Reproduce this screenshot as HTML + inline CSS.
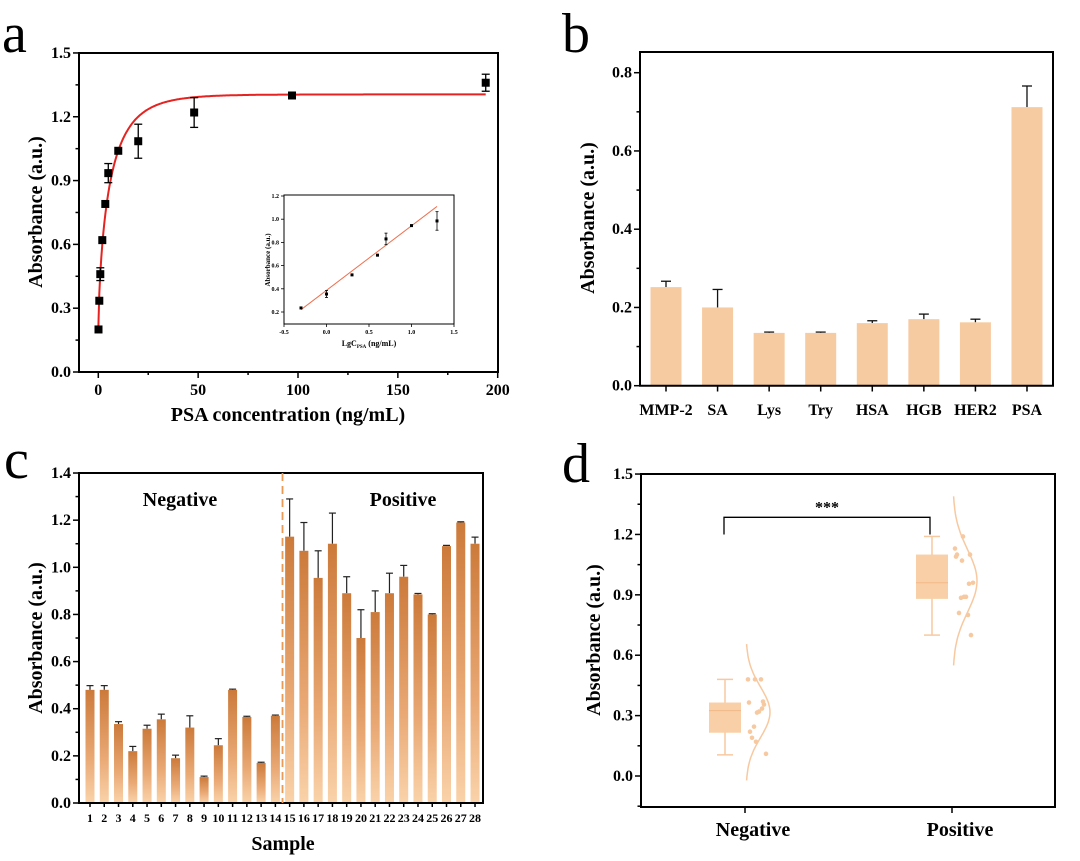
<!DOCTYPE html>
<html><head><meta charset="utf-8"><style>
html,body{margin:0;padding:0;background:#fff;}
svg{display:block;font-family:"Liberation Serif",serif;}
.t{font-weight:bold;font-size:16px;}
.ti{font-weight:bold;font-size:20px;}
</style></head><body>
<svg id="fig" width="1080" height="861" viewBox="0 0 1080 861">
<defs>
<linearGradient id="cg" x1="0" y1="0" x2="0" y2="1">
<stop offset="0" stop-color="#cc7a3a"/><stop offset="0.6" stop-color="#e9a874"/><stop offset="1" stop-color="#fad3aa"/>
</linearGradient>
</defs>
<text x="2" y="52" font-size="56">a</text>
<text x="562" y="52" font-size="56">b</text>
<text x="4" y="478" font-size="56">c</text>
<text x="562" y="482" font-size="56">d</text>
</svg>
<script>
// ---- Panel a data
const aX=[0.1,0.5,1,2,3.5,5,10,20,48,97,194];
const aY=[0.20,0.335,0.46,0.62,0.79,0.935,1.04,1.085,1.22,1.30,1.36];
const aErr=[0,0,0.03,0,0,0.045,0,0.08,0.07,0.01,0.04];
const aYTicks=[0,0.3,0.6,0.9,1.2,1.5];
const aXTicks=[0,50,100,150,200];
// inset
const iX=[-0.3,0,0.3,0.6,0.7,1.0,1.3];
const iY=[0.235,0.355,0.52,0.69,0.83,0.945,0.985];
const iErr=[0,0.03,0,0,0.05,0,0.08];
const iXTicks=[-0.5,0,0.5,1.0,1.5];
const iYTicks=[0.2,0.4,0.6,0.8,1.0,1.2];
// ---- Panel b
const bCats=["MMP-2","SA","Lys","Try","HSA","HGB","HER2","PSA"];
const bVals=[0.252,0.200,0.135,0.135,0.160,0.170,0.162,0.712];
const bErr=[0.015,0.046,0.002,0.002,0.006,0.013,0.008,0.054];
const bYTicks=[0,0.2,0.4,0.6,0.8];
// ---- Panel c
const cVals=[0.48,0.48,0.335,0.22,0.315,0.355,0.19,0.32,0.11,0.245,0.48,0.365,0.17,0.37,1.13,1.07,0.955,1.10,0.89,0.70,0.81,0.89,0.96,0.885,0.80,1.09,1.19,1.10];
const cErr=[0.018,0.018,0.01,0.02,0.015,0.022,0.013,0.05,0.004,0.028,0.003,0.003,0.003,0.003,0.16,0.12,0.115,0.13,0.07,0.12,0.09,0.085,0.048,0.004,0.003,0.003,0.003,0.028];
const cYTicks=[0,0.2,0.4,0.6,0.8,1.0,1.2,1.4];
// ---- Panel d
const dGroups=["Negative","Positive"];
const dMin=[0.105,0.70], dQ1=[0.215,0.88], dMed=[0.325,0.96], dQ3=[0.365,1.10], dMax=[0.48,1.19];
const dYTicks=[0,0.3,0.6,0.9,1.2,1.5];

const svg=document.getElementById('fig');
const NS='http://www.w3.org/2000/svg';
function mk(tag,attrs){const e=document.createElementNS(NS,tag);for(const k in attrs)e.setAttribute(k,attrs[k]);svg.appendChild(e);return e;}
function line(x1,y1,x2,y2,c,w){return mk('line',{x1,y1,x2,y2,stroke:c||'#000','stroke-width':w||1.5});}
function txt(x,y,s,cls,anchor){const e=mk('text',{x,y,'class':cls||'t','text-anchor':anchor||'middle'});e.textContent=s;return e;}
function fmt(v,d){return v.toFixed(d);}

// ===== Panel a
const xa=v=>98.3+v*1.997, ya=v=>372-v*212.7;
let e=mk('rect',{x:79,y:53,width:419,height:319,fill:'none',stroke:'#000','stroke-width':2});


aYTicks.forEach((v,i)=>{line(79,ya(v),73,ya(v));
 if(i<aYTicks.length-1)line(79,ya(v+0.15),75.5,ya(v+0.15));
 e=txt(71,ya(v)+5,fmt(v,1),'t','end');
 
 });
aXTicks.forEach((v,i)=>{line(xa(v),372,xa(v),378);
 if(i<aXTicks.length-1)line(xa(v+25),372,xa(v+25),375);
 e=txt(xa(v),395,String(v));
 
 });
e=txt(288,421,'PSA concentration (ng/mL)','ti');


e=txt(0,0,'Absorbance (a.u.)','ti');e.setAttribute('transform','translate(42,212) rotate(-90)');


let pts=[];for(let x=0;x<=194;x+=0.5){const y=1.305-1.105*Math.exp(-Math.pow(x/6.08,0.72));pts.push(xa(x).toFixed(1)+','+ya(y).toFixed(1));}
e=mk('polyline',{points:pts.join(' '),fill:'none',stroke:'#e52320','stroke-width':2});


aX.forEach((x,i)=>{const cx=xa(x),cy=ya(aY[i]);
 if(aErr[i]>0){line(cx,ya(aY[i]-aErr[i]),cx,ya(aY[i]+aErr[i]),'#000',1.3);line(cx-4,ya(aY[i]+aErr[i]),cx+4,ya(aY[i]+aErr[i]),'#000',1.3);line(cx-4,ya(aY[i]-aErr[i]),cx+4,ya(aY[i]-aErr[i]),'#000',1.3);}
 e=mk('rect',{x:cx-4,y:cy-4,width:8,height:8,fill:'#000'});
 
 });
// inset
const xi=v=>284+(v+0.5)*85, yi=v=>312-(v-0.2)*116;
e=mk('rect',{x:284,y:195,width:170,height:129,fill:'#fff',stroke:'#000','stroke-width':1});


iXTicks.forEach(v=>{line(xi(v),324,xi(v),327,'#000',0.8);e=mk('text',{x:xi(v),y:334,'text-anchor':'middle','font-size':6,'font-weight':'bold'});e.textContent=fmt(v,1);
 
 });
iYTicks.forEach(v=>{line(284,yi(v),281,yi(v),'#000',0.8);e=mk('text',{x:279,y:yi(v)+2,'text-anchor':'end','font-size':6,'font-weight':'bold'});e.textContent=fmt(v,1);
 
 });
e=mk('text',{x:369,y:346,'text-anchor':'middle','font-size':8,'font-weight':'bold'});e.innerHTML='LgC<tspan font-size="5" dy="2">PSA</tspan><tspan dy="-2"> (ng/mL)</tspan>';


e=mk('text',{'text-anchor':'middle','font-size':7,'font-weight':'bold',transform:'translate(270,260) rotate(-90)'});e.textContent='Absorbance (a.u.)';


e=line(xi(-0.3),yi(0.22),xi(1.3),yi(1.11),'#f07050',1);


iX.forEach((x,i)=>{const cx=xi(x),cy=yi(iY[i]);
 if(iErr[i]>0){line(cx,yi(iY[i]-iErr[i]),cx,yi(iY[i]+iErr[i]),'#000',0.8);line(cx-1.5,yi(iY[i]+iErr[i]),cx+1.5,yi(iY[i]+iErr[i]),'#000',0.8);line(cx-1.5,yi(iY[i]-iErr[i]),cx+1.5,yi(iY[i]-iErr[i]),'#000',0.8);}
 e=mk('rect',{x:cx-1.5,y:cy-1.5,width:3,height:3,fill:'#000'});
 
 });

// ===== Panel b
const xb=i=>666+i*51.57, yb=v=>385.7-v*391.25;
bVals.forEach((v,i)=>{const cx=xb(i);
 const top=yb(v+bErr[i]);line(cx,yb(v),cx,top,'#111',1.3);line(cx-5,top,cx+5,top,'#111',1.3);
 e=mk('rect',{x:cx-15.5,y:yb(v),width:31,height:yb(0)-yb(v),fill:'#f7cba1'});
 
 
 line(cx,385.7,cx,391.5);
 e=txt(cx,415,bCats[i]);
 
 });
e=mk('path',{d:'M640,52 L1053,52 L1053,385.7 L640,385.7 Z',fill:'none',stroke:'#000','stroke-width':2});


bYTicks.forEach((v,i)=>{line(640,yb(v),634,yb(v));if(i<bYTicks.length-1)line(640,yb(v+0.1),636.5,yb(v+0.1));
 e=txt(632,yb(v)+5,fmt(v,1),'t','end');
 
 });
e=txt(0,0,'Absorbance (a.u.)','ti');e.setAttribute('transform','translate(594,218) rotate(-90)');



// ===== Panel c
const xc=i=>90+i*14.26, yc=v=>803-v*235.7;
cVals.forEach((v,i)=>{const cx=xc(i);
 const top=yc(v+cErr[i]);line(cx,yc(v),cx,top,'#222',1.2);line(cx-3.5,top,cx+3.5,top,'#222',1.2);
 e=mk('rect',{x:cx-4.5,y:yc(v),width:9,height:yc(0)-yc(v),fill:'url(#cg)'});
 
 
 line(cx,803,cx,807);
 e=mk('text',{x:cx,y:822,'text-anchor':'middle','font-size':12,'font-weight':'bold'});e.textContent=String(i+1);
 
 });
e=mk('path',{d:'M79,473 L483,473 L483,803 L79,803 Z',fill:'none',stroke:'#000','stroke-width':2});


cYTicks.forEach((v,i)=>{line(79,yc(v),73,yc(v));if(i<cYTicks.length-1)line(79,yc(v+0.1),75.5,yc(v+0.1));
 e=txt(71,yc(v)+5,fmt(v,1),'t','end');
 
 });
e=line(xc(13.5),473,xc(13.5),803,'#ea9a55',1.8);e.setAttribute('stroke-dasharray','8,5');


e=txt(180,506,'Negative','ti');


e=txt(403,506,'Positive','ti');


e=txt(283,850,'Sample','ti');


e=txt(0,0,'Absorbance (a.u.)','ti');e.setAttribute('transform','translate(42,638) rotate(-90)');



// ===== Panel d
const yd=v=>776-v*201.3, gx=[745,952];
e=mk('path',{d:'M641,474 L1055,474 L1055,807 L641,807 Z',fill:'none',stroke:'#000','stroke-width':2});


dYTicks.forEach((v,i)=>{line(641,yd(v),635,yd(v));if(i<dYTicks.length-1)line(641,yd(v+0.15),637.5,yd(v+0.15));
 e=txt(633,yd(v)+5,fmt(v,1),'t','end');
 
 });
line(641,yd(-0.15),637.5,yd(-0.15));
e=txt(0,0,'Absorbance (a.u.)','ti');e.setAttribute('transform','translate(600,640) rotate(-90)');


const OR='#f7c9a0';
dGroups.forEach((g,k)=>{const cx=gx[k];
 line(cx,807,cx,813);
 e=txt(cx+8,836,g,'ti');
 
 
 const bx=cx-20;
 line(bx,yd(dMin[k]),bx,yd(dMax[k]),OR,1.5);
 line(bx-8,yd(dMin[k]),bx+8,yd(dMin[k]),OR,1.5);line(bx-8,yd(dMax[k]),bx+8,yd(dMax[k]),OR,1.5);
 e=mk('rect',{x:bx-16,y:yd(dQ3[k]),width:32,height:yd(dQ1[k])-yd(dQ3[k]),fill:'#f8cfa6'});
 
 
 line(bx-16,yd(dMed[k]),bx+16,yd(dMed[k]),'#f2b888',1);
 const vals=k===0?cVals.slice(0,14):cVals.slice(14);
 const mu=vals.reduce((a,b)=>a+b,0)/vals.length;
 const sd=Math.sqrt(vals.reduce((a,b)=>a+(b-mu)*(b-mu),0)/vals.length)*1.1;
 vals.forEach((v,j)=>{e=mk('circle',{cx:cx+3+((j*7)%19),cy:yd(v),r:2.3,fill:OR});
  
  });
 let p=[];const lo=mu-2.7*sd,hi=mu+2.7*sd;
 for(let s=0;s<=60;s++){const v=lo+(hi-lo)*s/60;p.push((cx+1+24*Math.exp(-(v-mu)*(v-mu)/(2*sd*sd))).toFixed(1)+','+yd(v).toFixed(1));}
 e=mk('polyline',{points:p.join(' '),fill:'none',stroke:OR,'stroke-width':1.5});
 
 
});
e=mk('path',{d:'M724,'+yd(1.2)+' L724,'+yd(1.285)+' L930,'+yd(1.285)+' L930,'+yd(1.2),fill:'none',stroke:'#000','stroke-width':1.3});


e=txt(827,yd(1.31),'***','t');


</script>
</body></html>
